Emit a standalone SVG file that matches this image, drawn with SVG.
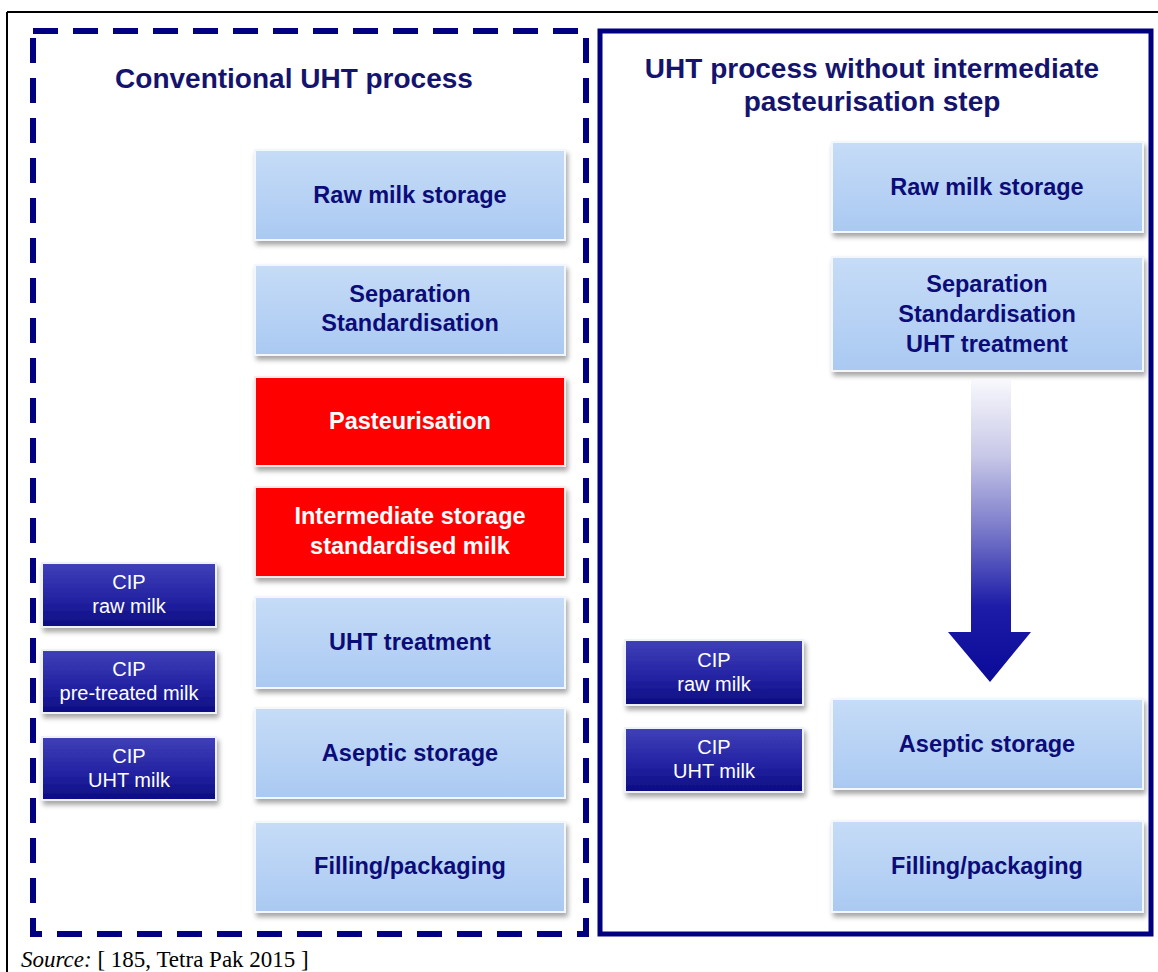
<svg xmlns="http://www.w3.org/2000/svg" width="1158" height="972" viewBox="0 0 1158 972">
<defs>
  <linearGradient id="gBlue" x1="0" y1="0" x2="0" y2="1">
    <stop offset="0" stop-color="#c6dcf7"/>
    <stop offset="1" stop-color="#aac9f2"/>
  </linearGradient>
  <linearGradient id="gCip" x1="0" y1="0" x2="0" y2="1">
    <stop offset="0" stop-color="#4040b8"/>
    <stop offset="0.55" stop-color="#2424a4"/>
    <stop offset="1" stop-color="#0c0c82"/>
  </linearGradient>
  <linearGradient id="gArrow" gradientUnits="userSpaceOnUse" x1="0" y1="380" x2="0" y2="682">
    <stop offset="0" stop-color="#f8f8fd"/>
    <stop offset="0.25" stop-color="#c8c8e8"/>
    <stop offset="0.5" stop-color="#7878ca"/>
    <stop offset="0.75" stop-color="#1c1ca8"/>
    <stop offset="1" stop-color="#0a0a98"/>
  </linearGradient>
  <filter id="shadow" x="-10%" y="-10%" width="125%" height="135%">
    <feDropShadow dx="2" dy="4" stdDeviation="2.5" flood-color="#000" flood-opacity="0.35"/>
  </filter>
</defs>
<style>
  .step { fill: url(#gBlue); stroke: #f2f7fd; stroke-width: 2; filter: url(#shadow); }
  .red { fill: #ff0000; stroke: #fbe8e8; stroke-width: 2; filter: url(#shadow); }
  .cip { fill: url(#gCip); stroke: #eef0fa; stroke-width: 2; filter: url(#shadow); }
  .lbl { font-family: "Liberation Sans", Arial, sans-serif; font-weight: bold; font-size: 23.5px; fill: #0c0c78; text-anchor: middle; }
  .lblw { font-family: "Liberation Sans", Arial, sans-serif; font-weight: bold; font-size: 23.5px; fill: #ffffff; text-anchor: middle; }
  .cipt { font-family: "Liberation Sans", Arial, sans-serif; font-size: 20px; fill: #ffffff; text-anchor: middle; }
  .title { font-family: "Liberation Sans", Arial, sans-serif; font-weight: bold; font-size: 28px; fill: #14146e; text-anchor: middle; }
  .src { font-family: "Liberation Serif", "Times New Roman", serif; font-size: 23px; fill: #000; }
</style>
<rect x="0" y="0" width="1158" height="972" fill="#ffffff"/>

<g id="frame">
  <line x1="7" y1="12" x2="1158" y2="12" stroke="#000" stroke-width="2"/>
  <line x1="7" y1="12" x2="7" y2="972" stroke="#000" stroke-width="2"/>
</g>

<g id="panel-conventional">
  <rect x="33" y="31" width="553" height="903" fill="none" stroke="#000080" stroke-width="6" stroke-dasharray="25 15"/>
  <text class="title" x="294" y="88">Conventional UHT process</text>
</g>
<g id="panel-direct">
  <rect x="600" y="31" width="551" height="903" fill="none" stroke="#000080" stroke-width="5"/>
  <text class="title" x="872" y="78">UHT process without intermediate</text>
  <text class="title" x="872" y="111">pasteurisation step</text>
</g>

<g id="l-raw"><rect class="step" x="255" y="150" width="310" height="90"/><text class="lbl" x="410" y="203">Raw milk storage</text></g>
<g id="l-sep"><rect class="step" x="255" y="265" width="310" height="90"/><text class="lbl" x="410" y="302">Separation</text><text class="lbl" x="410" y="331">Standardisation</text></g>
<g id="l-past"><rect class="red" x="255" y="377" width="310" height="89"/><text class="lblw" x="410" y="429">Pasteurisation</text></g>
<g id="l-inter"><rect class="red" x="255" y="487" width="310" height="90"/><text class="lblw" x="410" y="524">Intermediate storage</text><text class="lblw" x="410" y="554">standardised milk</text></g>
<g id="l-uht"><rect class="step" x="255" y="597" width="310" height="91"/><text class="lbl" x="410" y="650">UHT treatment</text></g>
<g id="l-asep"><rect class="step" x="255" y="708" width="310" height="90"/><text class="lbl" x="410" y="761">Aseptic storage</text></g>
<g id="l-fill"><rect class="step" x="255" y="822" width="310" height="90"/><text class="lbl" x="410" y="874">Filling/packaging</text></g>

<g id="l-cip-raw"><rect class="cip" x="42" y="563" width="174" height="64"/><text class="cipt" x="129" y="589">CIP</text><text class="cipt" x="129" y="613">raw milk</text></g>
<g id="l-cip-pre"><rect class="cip" x="42" y="650" width="174" height="63"/><text class="cipt" x="129" y="676">CIP</text><text class="cipt" x="129" y="700">pre-treated milk</text></g>
<g id="l-cip-uht"><rect class="cip" x="42" y="737" width="174" height="63"/><text class="cipt" x="129" y="763">CIP</text><text class="cipt" x="129" y="787">UHT milk</text></g>

<g id="r-raw"><rect class="step" x="832" y="142" width="311" height="90"/><text class="lbl" x="987" y="195">Raw milk storage</text></g>
<g id="r-sep"><rect class="step" x="832" y="257" width="311" height="114"/><text class="lbl" x="987" y="292">Separation</text><text class="lbl" x="987" y="322">Standardisation</text><text class="lbl" x="987" y="352">UHT treatment</text></g>
<g id="r-asep"><rect class="step" x="832" y="699" width="311" height="90"/><text class="lbl" x="987" y="752">Aseptic storage</text></g>
<g id="r-fill"><rect class="step" x="832" y="821" width="311" height="91"/><text class="lbl" x="987" y="874">Filling/packaging</text></g>

<g id="r-cip-raw"><rect class="cip" x="625" y="640" width="178" height="65"/><text class="cipt" x="714" y="667">CIP</text><text class="cipt" x="714" y="691">raw milk</text></g>
<g id="r-cip-uht"><rect class="cip" x="625" y="728" width="178" height="64"/><text class="cipt" x="714" y="754">CIP</text><text class="cipt" x="714" y="778">UHT milk</text></g>

<g id="connectors">
  <path d="M971 380 H1011 V632 H1031 L990 682 L948 632 H971 Z" fill="url(#gArrow)"/>
</g>

<text class="src" x="21" y="967"><tspan font-style="italic">Source:</tspan> [ 185, Tetra Pak 2015 ]</text>
</svg>
